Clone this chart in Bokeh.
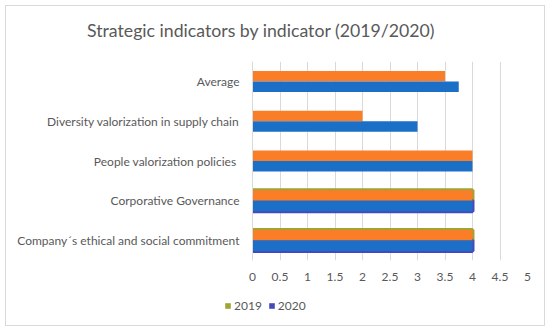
from bokeh.plotting import figure
from bokeh.layouts import column
from bokeh.models import FixedTicker, Legend, LegendItem, ColumnDataSource, Div
from bokeh.transform import dodge
from bokeh.embed import file_html
from bokeh.resources import INLINE

categories = [
    "Average",
    "Diversity valorization in supply chain",
    "People valorization policies ",
    "Corporative Governance",
    "Company\u00b4s ethical and social commitment",
]
values_2019 = [3.5, 2, 4, 4, 4]
values_2020 = [3.75, 3, 4, 4, 4]
legend_categories = ["Corporative Governance", "Company\u00b4s ethical and social commitment"]
legend_2019 = [4, 4]
legend_2020 = [4, 4]
series_names = ["2019", "2020"]
title_text = "Strategic indicators by indicator (2019/2020)"
x_ticks = [0, 0.5, 1, 1.5, 2, 2.5, 3, 3.5, 4, 4.5, 5]
x_tick_labels = ["0", "0.5", "1", "1.5", "2", "2.5", "3", "3.5", "4", "4.5", "5"]

FONT = "Lato"
GREY = "#595959"
OLIVE = "#A3A332"
PURPLE = "#4848BE"

src = ColumnDataSource(dict(cat=categories, v19=values_2019, v20=values_2020))
lsrc = ColumnDataSource(dict(cat=legend_categories, v19=legend_2019, v20=legend_2020))

title_div = Div(text=title_text, width=538, height=36, margin=0,
                styles={"font-family": FONT, "font-size": "17.7px", "color": GREY,
                        "padding-left": "81px", "padding-top": "14px", "line-height": "21px",
                        "white-space": "nowrap", "box-sizing": "border-box"})

p = figure(width=538, height=253, output_backend="svg", toolbar_location=None,
           y_range=list(reversed(categories)), x_range=(0, 5),
           min_border_left=246, min_border_right=17, min_border_top=19, min_border_bottom=35)

h = 0.264
p.hbar(y=dodge("cat", h / 2, range=p.y_range), right="v19", left=0, height=h, source=lsrc,
       fill_color=OLIVE, line_color=OLIVE, line_width=4)
p.hbar(y=dodge("cat", -h / 2, range=p.y_range), right="v20", left=0, height=h, source=lsrc,
       fill_color=PURPLE, line_color=PURPLE, line_width=4)
p.hbar(y=dodge("cat", h / 2, range=p.y_range), right="v19", left=0, height=h, source=src,
       fill_color="#FA7D28", line_color=None)
p.hbar(y=dodge("cat", -h / 2, range=p.y_range), right="v20", left=0, height=h, source=src,
       fill_color="#1C6FC7", line_color=None)

p.xaxis.ticker = FixedTicker(ticks=x_ticks)
p.xaxis.major_label_overrides = {t: l for t, l in zip(x_ticks, x_tick_labels)}
p.xaxis.axis_line_color = None
p.xaxis.major_tick_line_color = None
p.xaxis.minor_tick_line_color = None
p.xaxis.major_label_text_font = FONT
p.xaxis.major_label_text_font_size = "12px"
p.xaxis.major_label_text_color = GREY
p.xaxis.major_label_standoff = 6

p.yaxis.axis_line_color = "#d9d9d9"
p.yaxis.major_tick_line_color = None
p.yaxis.minor_tick_line_color = None
p.yaxis.major_label_text_font = FONT
p.yaxis.major_label_text_font_size = "12px"
p.yaxis.major_label_text_color = GREY
p.yaxis.major_label_standoff = 7

p.xgrid.grid_line_color = "#d9d9d9"
p.xgrid.ticker = FixedTicker(ticks=x_ticks)
p.ygrid.grid_line_color = None
p.outline_line_color = None

# legend strip
pl = figure(width=538, height=30, output_backend="svg", toolbar_location=None,
            y_range=legend_categories, x_range=(0, 5), min_border=0, frame_align=False)
pl.axis.visible = False
pl.grid.grid_line_color = None
pl.outline_line_color = None
k19 = pl.hbar(y="cat", right="v19", left=0, height=0.5, source=lsrc,
              fill_color=OLIVE, line_color=None, visible=False)
k20 = pl.hbar(y="cat", right="v20", left=0, height=0.5, source=lsrc,
              fill_color=PURPLE, line_color=None, visible=False)
legend = Legend(items=[LegendItem(label=series_names[0], renderers=[k19]),
                       LegendItem(label=series_names[1], renderers=[k20])],
                orientation="horizontal", location=(218, 12),
                glyph_width=7, glyph_height=7, label_height=14, label_standoff=3, spacing=6,
                padding=0, margin=0, border_line_color=None, background_fill_alpha=0,
                inactive_fill_alpha=0,
                label_text_font=FONT, label_text_font_size="12px", label_text_color=GREY)
pl.add_layout(legend, "center")

layout = column(title_div, p, pl, styles={"margin": "5px", "border": "1px solid #d9d9d9"})

open("out.html", "w").write(file_html(layout, INLINE))
